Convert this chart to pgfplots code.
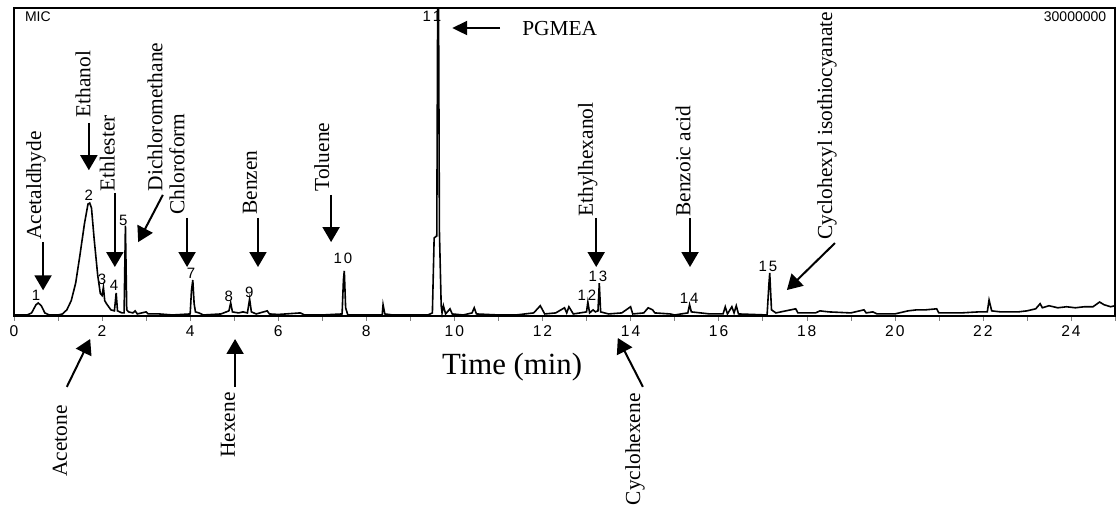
\documentclass[border=0pt]{standalone}
\usepackage{fontspec}
\setmainfont{Liberation Serif}
\newfontfamily\arial{Liberation Sans}
\usepackage{pgfplots}
\pgfplotsset{compat=1.18}
\usetikzlibrary{arrows.meta}
\begin{document}
\begin{tikzpicture}
\useasboundingbox (-7pt,-95.5pt) rectangle (551.5pt,158pt);
\begin{axis}[
  at={(0,0)}, anchor=south west,
  width=550.5pt, height=154pt, scale only axis,
  xmin=0, xmax=25, ymin=0, ymax=30,
  clip=false,
  axis line style={line width=0.7pt},
  ytick=\empty,
  xtick={0,2,...,24},
  xticklabels={0,2,4,6,8,1\kern1pt0,1\kern1pt2,1\kern1pt4,1\kern1pt6,1\kern1pt8,2\kern1pt0,2\kern1pt2,2\kern1pt4},
  minor xtick={1,3,...,25},
  tick align=outside,
  major tick length=2.5pt, minor tick length=2.5pt,
  xtick pos=bottom,
  xticklabel style={font=\arial\fontsize{7.8}{8}\selectfont, yshift=1pt},
  /pgf/number format/assume math mode=true,
  every node/.style={inner sep=0pt},
]
\addplot[black, line width=0.8pt] coordinates {
(0.0,0.1) (0.3,0.1) (0.4,0.3) (0.5,1.1) (0.55,1.27) (0.62,1.0) (0.7,0.3) (0.8,0.1)
(1.0,0.1) (1.1,0.2) (1.2,0.6) (1.3,1.5) (1.4,3.2) (1.5,6.0) (1.6,9.0) (1.68,10.9)
(1.72,11.0) (1.76,10.5) (1.82,7.5) (1.9,4.0) (1.96,2.2) (2.0,2.0) (2.03,2.8) (2.06,1.5)
(2.1,1.2) (2.2,0.6) (2.28,0.5) (2.32,2.25) (2.35,0.5) (2.45,0.3) (2.5,0.3) (2.53,8.8)
(2.56,0.6) (2.6,0.4) (2.7,0.3) (2.75,0.5) (2.8,0.2) (3.0,0.4) (3.05,0.2) (3.3,0.2)
(3.6,0.1) (4.0,0.2) (4.03,2.5) (4.06,3.5) (4.09,1.2) (4.12,0.4) (4.2,0.3) (4.3,0.1)
(4.7,0.2) (4.88,0.5) (4.92,1.27) (4.96,0.4) (5.1,0.3) (5.2,0.4) (5.3,0.3) (5.35,1.65)
(5.39,0.4) (5.5,0.2) (5.75,0.5) (5.8,0.2) (6.0,0.15) (6.5,0.3) (6.6,0.1) (7.0,0.1)
(7.45,0.2) (7.48,3.5) (7.5,4.4) (7.53,0.8) (7.58,0.1) (8.0,0.1) (8.36,0.1) (8.38,1.1)
(8.42,0.2) (8.6,0.1) (9.4,0.1) (9.5,0.3) (9.54,7.6) (9.6,7.8) (9.62,30) (9.64,30)
(9.66,8.2) (9.7,1.0) (9.72,0.3) (9.75,1.0) (9.8,0.2) (9.9,0.7) (9.95,0.2) (10.2,0.1)
(10.4,0.3) (10.45,0.8) (10.5,0.2) (11.0,0.1) (11.4,0.1) (11.8,0.3) (11.95,1.0) (12.0,0.6)
(12.05,0.2) (12.3,0.3) (12.5,0.8) (12.55,0.3) (12.6,0.9) (12.7,0.2) (13.0,0.4) (13.03,1.36)
(13.07,0.3) (13.15,0.6) (13.2,0.4) (13.26,0.5) (13.29,3.2) (13.32,0.4) (13.5,0.2) (13.8,0.3)
(14.0,0.9) (14.05,0.2) (14.3,0.3) (14.4,0.8) (14.5,0.6) (14.55,0.3) (14.9,0.2) (15.0,0.1)
(15.3,0.3) (15.34,1.1) (15.38,0.4) (15.8,0.2) (16.1,0.2) (16.15,0.9) (16.2,0.2) (16.3,0.9)
(16.35,0.3) (16.4,1.0) (16.45,0.2) (17.1,0.1) (17.14,3.0) (17.16,4.2) (17.2,0.6) (17.3,0.3)
(17.75,0.7) (17.8,0.3) (18.2,0.3) (18.3,0.5) (18.5,0.4) (19.0,0.3) (19.3,0.6) (19.35,0.3)
(19.5,0.4) (19.6,0.2) (20.0,0.2) (20.3,0.5) (20.5,0.6) (20.7,0.6) (20.95,0.7) (21.0,0.3)
(21.5,0.3) (21.9,0.4) (22.1,0.4) (22.14,1.56) (22.2,0.5) (22.4,0.4) (22.8,0.4) (23.0,0.5)
(23.2,0.7) (23.3,1.2) (23.35,0.8) (23.5,1.0) (23.7,0.8) (23.9,0.9) (24.1,0.8) (24.3,0.9)
(24.5,0.9) (24.65,1.36) (24.75,1.1) (24.9,0.9) (25.0,1.0)
};
% corner texts
\node[anchor=west, font=\arial\fontsize{7}{8}\selectfont] at (axis cs:0.09,29.2) {MIC};
\node[anchor=east, font=\arial\fontsize{7}{8}\selectfont] at (axis cs:24.96,29.2) {30000000};
% peak numbers
\begin{scope}[every node/.style={font=\arial\fontsize{7.5}{8}\selectfont, inner sep=0pt}]
\node at (axis cs:0.50,2.05) {1};
\node at (axis cs:1.70,11.8) {2};
\node at (axis cs:2.00,3.6) {3};
\node at (axis cs:2.27,3.0) {4};
\node at (axis cs:2.48,9.35) {5};
\node at (axis cs:4.02,4.19) {7};
\node at (axis cs:4.88,1.95) {8};
\node at (axis cs:5.34,2.34) {9};
\node at (axis cs:7.47,5.65) {1\kern1pt0};
\node at (axis cs:9.49,29.2) {1\kern1pt1};
\node at (axis cs:13.01,2.05) {1\kern1pt2};
\node at (axis cs:13.26,3.9) {1\kern1pt3};
\node at (axis cs:15.33,1.75) {1\kern1pt4};
\node at (axis cs:17.12,4.87) {1\kern1pt5};
\end{scope}
% annotations
\tikzset{lab/.style={font=\fontsize{10.7}{12}\selectfont, inner sep=0pt, rotate=90},
  arr/.style={line width=1pt, -{Triangle[width=8.5pt,length=7.5pt]}}}
\node[lab, anchor=west] at (axis cs:0.50,7.4) {Acetaldhyde};
\draw[arr] (axis cs:0.66,7.2) -- (axis cs:0.66,2.5);
\node[lab, anchor=west] at (axis cs:1.57,19.3) {Ethanol};
\draw[arr] (axis cs:1.70,18.8) -- (axis cs:1.70,14.2);
\node[lab, anchor=west] at (axis cs:2.12,12.1) {Ethlester};
\draw[arr] (axis cs:2.29,12.0) -- (axis cs:2.29,4.77);
\node[lab, anchor=west] at (axis cs:3.20,12.1) {Dichloromethane};
\draw[arr] (axis cs:3.38,11.8) -- (axis cs:2.82,7.2);
\node[lab, anchor=west] at (axis cs:3.70,9.84) {Chloroform};
\draw[arr] (axis cs:3.93,9.55) -- (axis cs:3.93,4.77);
\node[lab, anchor=west] at (axis cs:5.36,9.84) {Benzen};
\draw[arr] (axis cs:5.54,9.55) -- (axis cs:5.54,4.77);
\node[lab, anchor=west] at (axis cs:6.99,12.1) {Toluene};
\draw[arr] (axis cs:7.20,11.8) -- (axis cs:7.20,7.2);
\node[lab, anchor=west] at (axis cs:13.03,9.64) {Ethylhexanol};
\draw[arr] (axis cs:13.22,9.55) -- (axis cs:13.22,4.77);
\node[lab, anchor=west] at (axis cs:15.19,9.64) {Benzoic acid};
\draw[arr] (axis cs:15.35,9.55) -- (axis cs:15.35,4.77);
\node[lab, anchor=west] at (axis cs:18.46,7.4) {Cyclohexyl isothiocyanate};
\draw[arr] (axis cs:18.64,7.1) -- (axis cs:17.55,2.53);
\node[lab, anchor=east] at (axis cs:1.04,-8.67) {Acetone};
\draw[arr] (axis cs:1.20,-6.9) -- (axis cs:1.73,-2.24);
\node[lab, anchor=east] at (axis cs:4.86,-7.4) {Hexene};
\draw[arr] (axis cs:5.02,-6.9) -- (axis cs:5.02,-2.24);
\node[lab, anchor=east] at (axis cs:14.10,-7.5) {Cyclohexene};
\draw[arr] (axis cs:14.28,-6.9) -- (axis cs:13.71,-2.14);
\node[anchor=west, font=\fontsize{10.7}{12}\selectfont] at (axis cs:11.38,28.05) {PGMEA};
\draw[line width=1pt, -{Triangle[width=7pt,length=7.5pt]}] (axis cs:11.04,28.05) -- (axis cs:9.95,28.05);
\node[font=\fontsize{15.4}{17}\selectfont] at (axis cs:11.31,-4.97) {Time (min)};
\end{axis}
\end{tikzpicture}
\end{document}
